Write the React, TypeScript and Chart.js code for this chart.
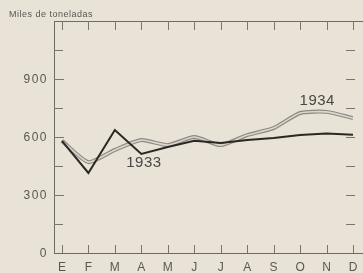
import React, { useEffect, useRef } from "react";
import { Chart, registerables } from "chart.js";

Chart.register(...registerables);

const months = ["E", "F", "M", "A", "M", "J", "J", "A", "S", "O", "N", "D"];
const y1933 = [580, 414, 636, 512, 548, 580, 569, 585, 595, 610, 618, 612];
const y1934 = [580, 470, 533, 584, 558, 600, 558, 610, 646, 724, 730, 698];
const yLabels = [0, 300, 600, 900];
const yTickStep = 150;
const yMax = 1200;
const title = "Miles de toneladas";

const BG = "#e8e2d7";
const INK = "#5a5752";

const axesPlugin = {
  id: "oldAxes",
  beforeDraw(chart: any) {
    const ctx = chart.ctx;
    ctx.save();
    ctx.fillStyle = BG;
    ctx.fillRect(0, 0, chart.width, chart.height);
    ctx.restore();
  },
  afterDatasetsDraw(chart: any) {
    const ctx = chart.ctx;
    const xs = chart.scales.x;
    const ys = chart.scales.y;
    const area = chart.chartArea;
    ctx.save();
    ctx.strokeStyle = "#6e6a64";
    ctx.lineWidth = 1;
    ctx.beginPath();
    ctx.moveTo(area.left + 0.5, area.top);
    ctx.lineTo(area.left + 0.5, area.bottom);
    ctx.moveTo(area.left, area.top + 0.5);
    ctx.lineTo(chart.width, area.top + 0.5);
    ctx.moveTo(area.left, area.bottom + 0.5);
    ctx.lineTo(chart.width, area.bottom + 0.5);
    ctx.stroke();

    ctx.strokeStyle = "#7a766f";
    ctx.beginPath();
    for (let v = yTickStep; v < yMax; v += yTickStep) {
      const p = Math.round(ys.getPixelForValue(v)) + 0.5;
      const major = yLabels.includes(v);
      ctx.moveTo(area.left, p);
      ctx.lineTo(area.left + (major ? 10 : 9), p);
      ctx.moveTo(area.right - 7, p);
      ctx.lineTo(area.right + 2, p);
    }
    months.forEach((_, i) => {
      const p = Math.round(xs.getPixelForValue(i)) + 0.5;
      ctx.moveTo(p, area.top);
      ctx.lineTo(p, area.top + 9);
      ctx.moveTo(p, area.bottom - 8);
      ctx.lineTo(p, area.bottom);
    });
    ctx.stroke();

    ctx.fillStyle = INK;
    ctx.font = "12px 'Liberation Sans', sans-serif";
    (ctx as any).letterSpacing = "1.5px";
    ctx.textAlign = "right";
    ctx.textBaseline = "middle";
    yLabels.forEach((v) => {
      const p = ys.getPixelForValue(v);
      ctx.fillText(String(v), area.left - 6, p + 1);
    });
    ctx.textAlign = "center";
    ctx.textBaseline = "top";
    ctx.font = "12px 'Liberation Sans', sans-serif";
    (ctx as any).letterSpacing = "0px";
    months.forEach((m, i) => {
      const p = xs.getPixelForValue(i);
      ctx.fillText(m, p, area.bottom + 9);
    });
    ctx.textAlign = "left";
    ctx.textBaseline = "alphabetic";
    ctx.font = "9px 'Liberation Sans', sans-serif";
    (ctx as any).letterSpacing = "0.5px";
    ctx.fillText(title, 9, 17);
    ctx.font = "15px 'Liberation Sans', sans-serif";
    (ctx as any).letterSpacing = "0.5px";
    ctx.fillStyle = "#4a4743";
    ctx.textAlign = "center";
    ctx.textBaseline = "middle";
    ctx.fillText("1933", xs.getPixelForValue(3.1), ys.getPixelForValue(465));
    ctx.fillText("1934", xs.getPixelForValue(9.65), ys.getPixelForValue(785));
    ctx.restore();
  },
};

export default function App() {
  const ref = useRef<HTMLCanvasElement>(null);
  useEffect(() => {
    const pts = (arr: number[]) => arr.map((v, i) => ({ x: i, y: v }));
    const chart = new Chart(ref.current!, {
      type: "line",
      data: {
        datasets: [
          {
            data: pts(y1934),
            borderColor: "#8d8881",
            borderWidth: 4,
            pointRadius: 0,
            tension: 0.2,
            order: 3,
          },
          {
            data: pts(y1934),
            borderColor: "#dcd7ce",
            borderWidth: 1.6,
            pointRadius: 0,
            tension: 0.2,
            order: 2,
          },
          {
            data: pts(y1933),
            borderColor: "#2b2723",
            borderWidth: 2,
            pointRadius: 0,
            tension: 0,
            order: 1,
          },
        ],
      },
      options: {
        animation: false,
        responsive: false,
        maintainAspectRatio: false,
        layout: { padding: { left: 54, right: 10, top: 21, bottom: 20 } },
        plugins: { legend: { display: false }, tooltip: { enabled: false } },
        scales: {
          x: { type: "linear", min: -0.3, max: 11, display: false },
          y: { min: 0, max: yMax, display: false },
        },
      },
      plugins: [axesPlugin],
    });
    return () => chart.destroy();
  }, []);
  return (
    <div style={{ position: "fixed", left: 0, top: 0, width: 363, height: 273 }}>
      <canvas ref={ref} width={363} height={273} style={{ width: 363, height: 273, display: "block" }} />
    </div>
  );
}
